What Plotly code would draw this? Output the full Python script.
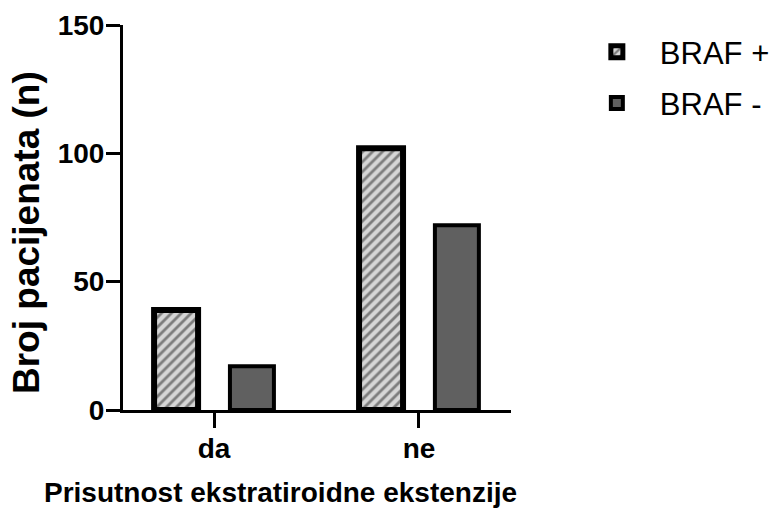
import plotly.graph_objects as go

categories = ["da", "ne"]
braf_pos = [39, 102]
braf_neg = [17, 72]
y_ticks = [0, 50, 100, 150]
series_names = ["BRAF +", "BRAF -"]
x_title = "Prisutnost ekstratiroidne ekstenzije"
y_title = "Broj pacijenata (n)"

FONT = "Liberation Sans, Arial, sans-serif"

fig = go.Figure()
fig.add_trace(go.Bar(
    x=categories, y=braf_pos, name=series_names[0], legendgroup="a",
    marker=dict(color="#d6d6d6", line=dict(color="black", width=6),
                pattern=dict(shape="/", fgcolor="#222222", bgcolor="#d6d6d6",
                             size=7, solidity=0.4, fillmode="overlay")),
))
fig.add_trace(go.Bar(
    x=categories, y=braf_neg, name=series_names[1], legendgroup="b",
    marker=dict(color="#606060", line=dict(color="black", width=4)),
))

fig.update_layout(
    width=775, height=509,
    margin=dict(l=123, r=264, t=25, b=99, autoexpand=False),
    paper_bgcolor="white", plot_bgcolor="white",
    barmode="group", bargap=0.26, bargroupgap=0.42,
    font=dict(family=FONT, color="black"),
    showlegend=True,
    legend=dict(x=1.162, y=1.0, xanchor="left", yanchor="top",
                font=dict(size=31, family=FONT, color="black"),
                itemwidth=76,
                tracegroupgap=8, traceorder="grouped",
                bgcolor="rgba(0,0,0,0)"),
    annotations=[
        dict(text=x_title, xref="paper", yref="paper",
             x=(280 - 123) / 388, y=-(492 - 410) / 385,
             xanchor="center", yanchor="middle", showarrow=False,
             font=dict(size=28, family=FONT, color="black", weight="bold")),
        dict(text=y_title, xref="paper", yref="paper", textangle=-90,
             x=(27 - 123) / 388, y=(410 - 233) / 385,
             xanchor="center", yanchor="middle", showarrow=False,
             font=dict(size=37, family=FONT, color="black", weight="bold")),
    ],
)
fig.update_xaxes(
    range=[-0.444, 1.449], showline=True, linecolor="black", linewidth=3,
    ticks="outside", ticklen=15, tickwidth=3, tickcolor="black",
    tickfont=dict(size=28, family=FONT, color="black", weight="bold"),
    ticklabelstandoff=-4,
    automargin=False,
    showgrid=False, zeroline=False,
)
fig.update_yaxes(
    range=[0, 150], tickvals=y_ticks, showline=True, linecolor="black", linewidth=3,
    ticks="outside", ticklen=14, tickwidth=3, tickcolor="black",
    tickfont=dict(size=28, family=FONT, color="black", weight="bold"),
    ticklabelstandoff=-4,
    automargin=False,
    showgrid=False, zeroline=False,
)

fig.write_html("out.html", config={"displayModeBar": False},
               post_script="document.body.style.margin='0';")
